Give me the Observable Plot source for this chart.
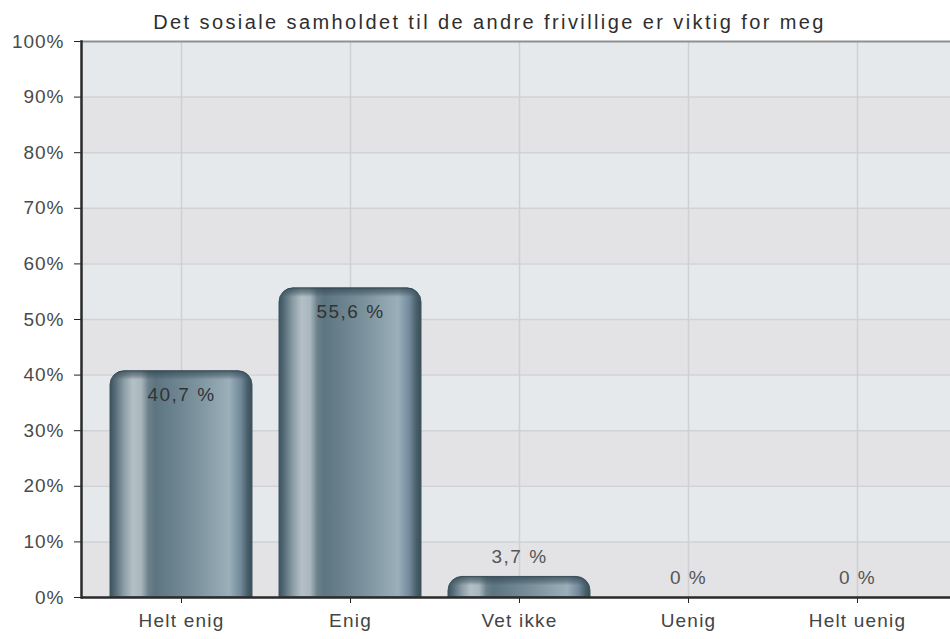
<!DOCTYPE html>
<html>
<head>
<meta charset="utf-8">
<script src="https://cdn.jsdelivr.net/npm/d3@7"></script>
<script src="https://cdn.jsdelivr.net/npm/@observablehq/plot@0.6"></script>
<style>
  html, body { margin: 0; padding: 0; background: #fff; }
  svg { display: block; }
</style>
</head>
<body>
<div id="chart"></div>
<script>
const title = "Det sosiale samholdet til de andre frivillige er viktig for meg";
const categories = ["Helt enig", "Enig", "Vet ikke", "Uenig", "Helt uenig"];
const values = [40.7, 55.6, 3.7, 0, 0];
const yTicks = [0, 10, 20, 30, 40, 50, 60, 70, 80, 90, 100];

const data = categories.map((c, i) => ({
  cat: c,
  value: values[i],
  label: String(values[i]).replace(".", ",") + " %"
}));
const bandStarts = yTicks.slice(0, -1);
const lightBands = bandStarts.filter((d, i) => i % 2 === 1);
const grayBands = bandStarts.filter((d, i) => i % 2 === 0);
const insideThreshold = 10;

const font = "'Liberation Sans', Arial, Helvetica, sans-serif";

const chart = Plot.plot({
  width: 950,
  height: 639,
  marginLeft: 81,
  marginRight: 0,
  marginTop: 41,
  marginBottom: 42,
  style: { fontFamily: font, background: "#fff", overflow: "visible" },
  x: { domain: categories, range: [94, 943], paddingInner: 0.16, paddingOuter: 0.08, label: null },
  y: { domain: [0, 100], label: null },
  marks: [
    Plot.rectY(lightBands, { y1: d => d, y2: d => d + 10, fill: "#e6e9ec" }),
    Plot.rectY(grayBands, { y1: d => d, y2: d => d + 10, fill: "#e3e3e5" }),
    Plot.ruleY(yTicks.slice(1, -1), { stroke: "#d2d2d4", strokeWidth: 1.5 }),
    Plot.ruleX(categories, { x: d => d, stroke: "#d0d0d2", strokeWidth: 1.5 }),
    Plot.ruleY([100], { stroke: "#8f8f8f", strokeWidth: 2 }),
    Plot.barY(data, { x: "cat", y: "value", fill: "url(#barGrad)" }),
    Plot.text(data.filter(d => d.value >= insideThreshold), {
      x: "cat", y: "value", text: "label", dy: 24, fontSize: 19, fill: "#333"
    }),
    Plot.text(data.filter(d => d.value < insideThreshold), {
      x: "cat", y: "value", text: "label", dy: -20, fontSize: 19, fill: "#555"
    }),
    Plot.axisY({
      ticks: yTicks, tickFormat: d => d + "%", tickSize: 7, tickPadding: 10,
      fontSize: 19, color: "#4a4a4a", stroke: "#222", label: null
    }),
    Plot.axisX({
      tickSize: 6, tickPadding: 10, fontSize: 19, color: "#444", stroke: "#222", label: null
    }),
    Plot.frame({ anchor: "left", stroke: "#2a2a2a", strokeWidth: 2.5 }),
    Plot.ruleY([0], { stroke: "#2a2a2a", strokeWidth: 2.5 }),
    Plot.text([title], {
      frameAnchor: "top-left", dx: 408, dy: -27, text: d => d,
      fontSize: 20, fill: "#2e2e2e", textAnchor: "middle"
    })
  ]
});

document.getElementById("chart").appendChild(chart);

const svg = d3.select(chart);
// letter spacing to match the reference's loose typesetting
const labelSet = new Set(data.map(d => d.label));
svg.selectAll("text").each(function () {
  const t = this.textContent;
  if (t === title) this.style.letterSpacing = "2.4px";
  else if (labelSet.has(t)) this.style.letterSpacing = "1.5px";
});
svg.selectAll('g[aria-label="x-axis tick label"] text').style("letter-spacing", "1.2px");
svg.selectAll('g[aria-label="y-axis tick label"] text').style("letter-spacing", "1px");

// gradients
const defs = svg.insert("defs", ":first-child");
const grad = defs.append("linearGradient").attr("id", "barGrad")
  .attr("x1", 0).attr("y1", 0).attr("x2", 1).attr("y2", 0);
[
  [0, "#3c525e"], [0.04, "#586f7a"], [0.10, "#8d9ea7"], [0.16, "#b4c0c6"],
  [0.22, "#a9b6bd"], [0.27, "#6b818c"], [0.32, "#5d7581"], [0.60, "#7b929d"],
  [0.84, "#9aafba"], [0.92, "#71899a"], [0.97, "#475d68"], [1, "#3a4f5a"]
].forEach(([o, c]) => grad.append("stop").attr("offset", o).attr("stop-color", c));

// rounded-top bars with dark rim
chart.querySelectorAll('g[aria-label="bar"] rect').forEach((r, i) => {
  const x = +r.getAttribute("x"), y = +r.getAttribute("y");
  const w = +r.getAttribute("width"), h = +r.getAttribute("height");
  const parent = r.parentNode;
  if (!(h > 0.5)) { parent.removeChild(r); return; }
  const rr = Math.min(14, w / 2, h);
  const d = `M${x},${y + h}V${y + rr}A${rr},${rr} 0 0 1 ${x + rr},${y}H${x + w - rr}A${rr},${rr} 0 0 1 ${x + w},${y + rr}V${y + h}Z`;
  const p = document.createElementNS("http://www.w3.org/2000/svg", "path");
  p.setAttribute("d", d);
  p.setAttribute("fill", "url(#barGrad)");
  p.setAttribute("stroke", "#3f5460");
  p.setAttribute("stroke-width", "1");
  parent.insertBefore(p, r);
  const gid = "rim" + i;
  const rg = defs.append("linearGradient").attr("id", gid)
    .attr("gradientUnits", "userSpaceOnUse")
    .attr("x1", 0).attr("y1", y).attr("x2", 0).attr("y2", y + 9);
  rg.append("stop").attr("offset", 0).attr("stop-color", "#2f434d").attr("stop-opacity", 0.75);
  rg.append("stop").attr("offset", 0.55).attr("stop-color", "#3a4f5a").attr("stop-opacity", 0.45);
  rg.append("stop").attr("offset", 1).attr("stop-color", "#3a4f5a").attr("stop-opacity", 0);
  const p2 = document.createElementNS("http://www.w3.org/2000/svg", "path");
  p2.setAttribute("d", d);
  p2.setAttribute("fill", `url(#${gid})`);
  parent.insertBefore(p2, r);
  parent.removeChild(r);
});
</script>
</body>
</html>
